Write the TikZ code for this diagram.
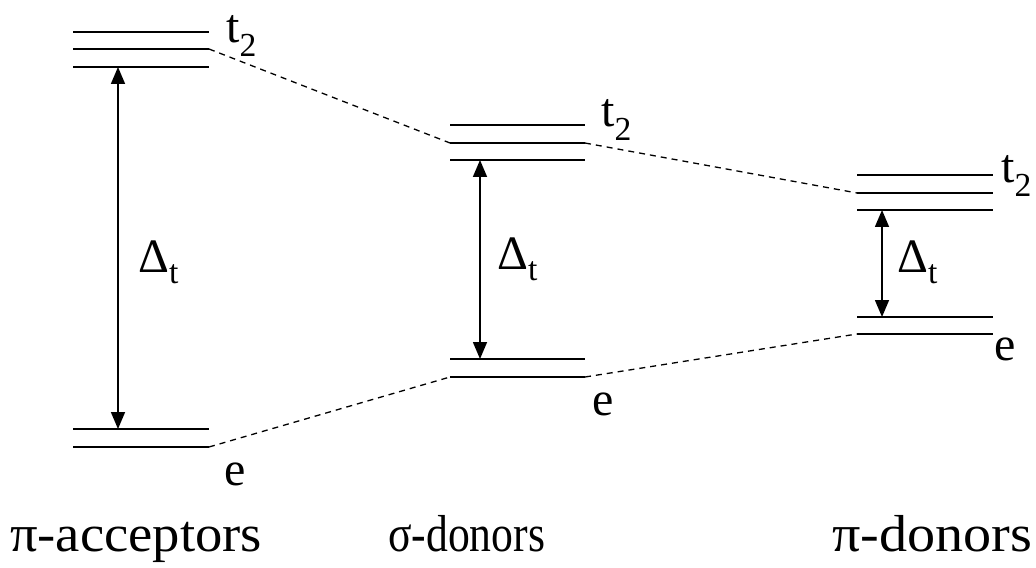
\documentclass[tikz,border=0pt]{standalone}
\usepackage{fontspec}
\setmainfont{Liberation Serif}
\newfontfamily\tnr{Liberation Serif}
\usetikzlibrary{arrows.meta}
\begin{document}
\begin{tikzpicture}[x=1bp,y=-1bp,
  level/.style={line width=1.6bp},
  link/.style={line width=1.3bp, dashed, dash pattern=on 6bp off 5bp},
  gap/.style={line width=1.6bp, {Triangle[width=14bp,length=17bp]}-{Triangle[width=14bp,length=17bp]}},
  lab/.style={inner sep=0pt, anchor=base west, font=\tnr\fontsize{48bp}{54bp}\selectfont},
  big/.style={inner sep=0pt, anchor=base west, font=\tnr\fontsize{52bp}{58bp}\selectfont}]
\useasboundingbox (0,0) rectangle (1036,568);
% left group
\coordinate (L1a) at (73,32);  \coordinate (L1b) at (209,32);
\coordinate (L2a) at (73,49);  \coordinate (L2b) at (209,49);
\coordinate (L3a) at (73,67);  \coordinate (L3b) at (209,67);
\coordinate (L4a) at (73,429); \coordinate (L4b) at (209,429);
\coordinate (L5a) at (73,447); \coordinate (L5b) at (209,447);
% middle group
\coordinate (M1a) at (450,125); \coordinate (M1b) at (585,125);
\coordinate (M2a) at (450,143); \coordinate (M2b) at (585,143);
\coordinate (M3a) at (450,160); \coordinate (M3b) at (585,160);
\coordinate (M4a) at (450,359); \coordinate (M4b) at (585,359);
\coordinate (M5a) at (450,377); \coordinate (M5b) at (585,377);
% right group
\coordinate (R1a) at (857,175); \coordinate (R1b) at (993,175);
\coordinate (R2a) at (857,193); \coordinate (R2b) at (993,193);
\coordinate (R3a) at (857,210); \coordinate (R3b) at (993,210);
\coordinate (R4a) at (857,317); \coordinate (R4b) at (993,317);
\coordinate (R5a) at (857,334); \coordinate (R5b) at (993,334);
\foreach \g in {L,M,R}{
  \foreach \i in {1,...,5}{
    \draw[level] (\g\i a) -- (\g\i b);
  }
}
% dashed correlation lines
\draw[link] (L2b) -- (M2a);
\draw[link] (M2b) -- (R2a);
\draw[link] (L5b) -- (M5a);
\draw[link] (M5b) -- (R5a);
% gap arrows
\coordinate (LA1) at (118,67);  \coordinate (LA2) at (118,429);
\coordinate (MA1) at (480,160); \coordinate (MA2) at (480,359);
\coordinate (RA1) at (882,210); \coordinate (RA2) at (882,317);
\draw[gap] (LA1) -- (LA2);
\draw[gap] (MA1) -- (MA2);
\draw[gap] (RA1) -- (RA2);
% labels
\node[lab] (tL) at (226,43) {t\textsubscript{2}};
\node[lab] (tM) at (601,127) {t\textsubscript{2}};
\node[lab] (tR) at (1001,183) {t\textsubscript{2}};
\node[lab] (eL) at (224,485) {e};
\node[lab] (eM) at (592,415) {e};
\node[lab] (eR) at (994,360) {e};
\node[lab] (dL) at (138,273) {Δ\textsubscript{t}};
\node[lab] (dM) at (497,270) {Δ\textsubscript{t}};
\node[lab] (dR) at (897,273) {Δ\textsubscript{t}};
\node[big] (nL) at (10,551) {\scalebox{1.05}[1]{π-acceptors}};
\node[big] (nM) at (388,551) {\scalebox{0.84}[1]{σ-donors}};
\node[big] (nR) at (832,551) {\scalebox{1.08}[1]{π-donors}};
\end{tikzpicture}
\end{document}
